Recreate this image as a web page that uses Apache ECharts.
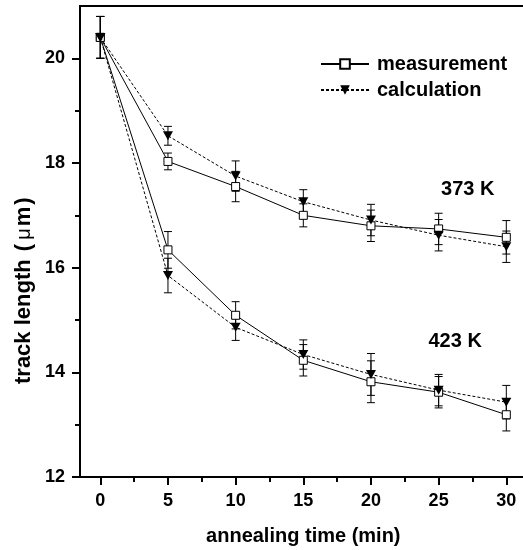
<!DOCTYPE html>
<html>
<head>
<meta charset="utf-8">
<script src="https://cdn.jsdelivr.net/npm/echarts@6/dist/echarts.min.js"></script>
<style>html,body{margin:0;padding:0;background:#fff;}#c{width:523px;height:550px;}</style>
</head>
<body>
<div id="c"></div>
<script>
var times = [0, 5, 10, 15, 20, 25, 30];
var meas373 = [20.4, 18.03, 17.55, 17.0, 16.8, 16.74, 16.58];
var meas373Err = [0.4, 0.16, 0.29, 0.22, 0.3, 0.3, 0.32];
var calc373 = [20.4, 18.52, 17.75, 17.26, 16.91, 16.62, 16.4];
var calc373Err = [0.4, 0.18, 0.29, 0.23, 0.3, 0.3, 0.3];
var meas423 = [20.4, 16.34, 15.09, 14.23, 13.82, 13.62, 13.19];
var meas423Err = [0.4, 0.35, 0.26, 0.3, 0.4, 0.3, 0.31];
var calc423 = [20.4, 15.85, 14.86, 14.34, 13.96, 13.66, 13.43];
var calc423Err = [0.4, 0.33, 0.25, 0.28, 0.4, 0.3, 0.32];
var xTicks = [0, 5, 10, 15, 20, 25, 30];
var xMinorTicks = [2.5, 7.5, 12.5, 17.5, 22.5, 27.5];
var yTicks = [12, 14, 16, 18, 20];
var yMinorTicks = [13, 15, 17, 19];
var annotations = [
  {name: '373 K', value: [27.15, 17.5]},
  {name: '423 K', value: [26.22, 14.59]}
];

var FONT = 'Liberation Sans, Arial, sans-serif';

function pairs(vals) { return times.map(function (t, i) { return [t, vals[i]]; }); }
function errData(vals, errs) { return times.map(function (t, i) { return [t, vals[i], errs[i]]; }); }

function errSeries(vals, errs) {
  return {
    type: 'custom',
    xAxisIndex: 0, yAxisIndex: 0,
    z: 1, silent: true,
    data: errData(vals, errs),
    renderItem: function (params, api) {
      var x = api.value(0), y = api.value(1), e = api.value(2);
      var top = api.coord([x, y + e]);
      var bot = api.coord([x, y - e]);
      var w = 4;
      var st = {stroke: '#000', lineWidth: 1};
      return {
        type: 'group',
        children: [
          {type: 'line', shape: {x1: top[0], y1: top[1], x2: bot[0], y2: bot[1]}, style: st},
          {type: 'line', shape: {x1: top[0] - w, y1: top[1], x2: top[0] + w, y2: top[1]}, style: st},
          {type: 'line', shape: {x1: bot[0] - w, y1: bot[1], x2: bot[0] + w, y2: bot[1]}, style: st}
        ]
      };
    }
  };
}

function measSeries(vals) {
  return {
    name: 'measurement', type: 'line', xAxisIndex: 0, yAxisIndex: 0, z: 3,
    data: pairs(vals),
    symbol: 'rect', symbolSize: 8,
    lineStyle: {color: '#000', width: 1, type: 'solid'},
    itemStyle: {color: '#fff', borderColor: '#000', borderWidth: 1}
  };
}
function calcSeries(vals) {
  return {
    name: 'calculation', type: 'line', xAxisIndex: 0, yAxisIndex: 0, z: 4,
    data: pairs(vals),
    symbol: 'triangle', symbolSize: [10, 9], symbolRotate: 180,
    lineStyle: {color: '#000', width: 1, type: [3, 2]},
    itemStyle: {color: '#000', borderColor: '#000', borderWidth: 0}
  };
}

var chart = echarts.init(document.getElementById('c'), null, {renderer: 'canvas'});
chart.setOption({
  animation: false,
  backgroundColor: '#fff',
  textStyle: {fontFamily: FONT},
  grid: {
    left: 80, top: 6, width: 446.6, height: 471,
    show: true, borderColor: '#000', borderWidth: 2, backgroundColor: 'transparent',
    outerBoundsMode: 'none', containLabel: false
  },
  legend: {
    orient: 'vertical', left: 320, top: 54, padding: 0,
    data: ['measurement', 'calculation'],
    itemWidth: 48, itemHeight: 12, itemGap: 6,
    selectedMode: false,
    textStyle: {fontFamily: FONT, fontSize: 20, fontWeight: 'bold', color: '#000', lineHeight: 20, padding: [0, 0, 0, 3]}
  },
  xAxis: [
    {
      type: 'value', min: -1.5, max: 31.5, position: 'bottom',
      axisLine: {show: true, onZero: false, lineStyle: {color: '#000', width: 2}},
      axisTick: {show: true, customValues: xTicks, length: 8, inside: false, lineStyle: {color: '#000', width: 2}},
      axisLabel: {customValues: xTicks, fontFamily: FONT, fontSize: 18, fontWeight: 'bold', color: '#000', margin: 15},
      splitLine: {show: false},
      name: 'annealing time (min)', nameLocation: 'middle', nameGap: 49,
      nameTextStyle: {fontFamily: FONT, fontSize: 20, fontWeight: 'bold', color: '#000'}
    },
    {
      type: 'value', min: -1.5, max: 31.5, position: 'bottom',
      axisLine: {show: false, onZero: false},
      axisTick: {show: true, customValues: xMinorTicks, length: 5, inside: false, lineStyle: {color: '#000', width: 2}},
      axisLabel: {show: false},
      splitLine: {show: false}
    }
  ],
  yAxis: [
    {
      type: 'value', min: 12, max: 21, position: 'left',
      axisLine: {show: true, onZero: false, lineStyle: {color: '#000', width: 2}},
      axisTick: {show: true, customValues: yTicks, length: 8, inside: false, lineStyle: {color: '#000', width: 2}},
      axisLabel: {customValues: yTicks, fontFamily: FONT, fontSize: 18, fontWeight: 'bold', color: '#000', margin: 15},
      splitLine: {show: false}
    },
    {
      type: 'value', min: 12, max: 21, position: 'left',
      axisLine: {show: false, onZero: false},
      axisTick: {show: true, customValues: yMinorTicks, length: 5, inside: false, lineStyle: {color: '#000', width: 2}},
      axisLabel: {show: false},
      splitLine: {show: false}
    }
  ],
  graphic: [
    {
      type: 'text', x: 24, y: 384, rotation: Math.PI / 2,
      style: {
        text: 'track length {p|(}{mu|\u03bc}{m|m}{p|)}',
        fontFamily: FONT, fontSize: 22, fontWeight: 'bold', fill: '#000', align: 'left', verticalAlign: 'middle',
        rich: {
          p: {fontFamily: FONT, fontSize: 22, fontWeight: 'bold', fill: '#000', padding: [0, 2, 0, 2]},
          mu: {fontFamily: FONT, fontSize: 20, fontWeight: 'normal', fill: '#000', padding: [0, 2, 0, 2]},
          m: {fontFamily: FONT, fontSize: 22, fontWeight: 'bold', fill: '#000'}
        }
      }
    }
  ],
  series: [
    errSeries(meas373, meas373Err),
    errSeries(calc373, calc373Err),
    errSeries(meas423, meas423Err),
    errSeries(calc423, calc423Err),
    measSeries(meas373),
    measSeries(meas423),
    calcSeries(calc373),
    calcSeries(calc423),
    {
      type: 'scatter', xAxisIndex: 0, yAxisIndex: 0, silent: true, z: 5,
      symbolSize: 0, itemStyle: {color: '#000'},
      data: annotations,
      label: {show: true, position: 'inside', formatter: '{b}', fontFamily: FONT, fontSize: 20, fontWeight: 'bold', color: '#000', textBorderWidth: 0, opacity: 1}
    }
  ]
});
</script>
</body>
</html>
